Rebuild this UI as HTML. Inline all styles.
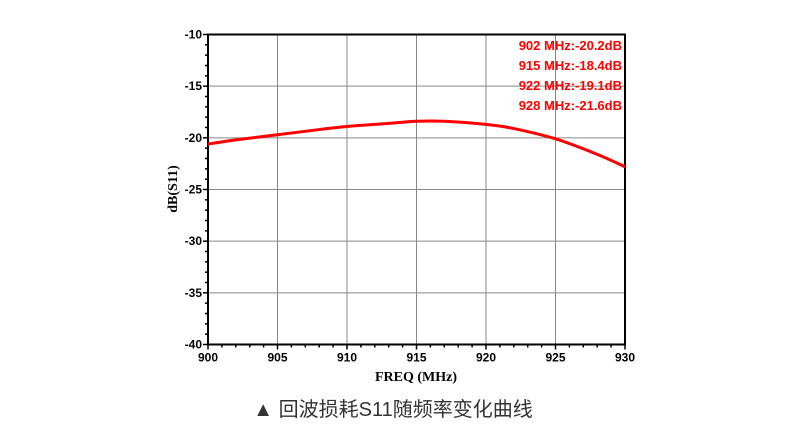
<!DOCTYPE html>
<html><head><meta charset="utf-8"><style>
body{margin:0;background:#fff;width:790px;height:439px;overflow:hidden}
svg{display:block}
</style></head><body>
<svg id="chart" width="790" height="439" xmlns="http://www.w3.org/2000/svg">
<g id="grid"></g>
<g id="axes"></g>
<path id="curve" fill="none" stroke="#ff0000" stroke-width="3"/>
<g id="ann" font-family="Liberation Sans, sans-serif" font-weight="bold" font-size="13" fill="#ff0000"></g>
<text transform="translate(177,189) rotate(-90)" text-anchor="middle" font-family="Liberation Serif, serif" font-weight="bold" font-size="14">dB(S11)</text>
<text x="416" y="381" text-anchor="middle" font-family="Liberation Serif, serif" font-weight="bold" font-size="14">FREQ (MHz)</text>
<text x="393" y="416" text-anchor="middle" font-family="Liberation Sans, Noto Sans CJK SC, sans-serif" font-size="20" fill="#333">▲ 回波损耗S11随频率变化曲线</text>
</svg>
<script>
const freqs=[900,902,905,908,910,913,915,917,920,922,925,928,930];
const s11=[-20.6,-20.2,-19.7,-19.2,-18.9,-18.6,-18.4,-18.4,-18.7,-19.1,-20.1,-21.6,-22.8];
const xTicks=[900,905,910,915,920,925,930];
const yTicks=[-10,-15,-20,-25,-30,-35,-40];
const markers=["902 MHz:-20.2dB","915 MHz:-18.4dB","922 MHz:-19.1dB","928 MHz:-21.6dB"];
const L=208,R=625,T=34.5,B=344.5;
const X=v=>L+(v-900)/30*(R-L), Y=v=>T+(-10-v)/30*(B-T);
const NS="http://www.w3.org/2000/svg";
function mk(t,a,p){const e=document.createElementNS(NS,t);for(const k in a)e.setAttribute(k,a[k]);p.appendChild(e);return e;}
const g=document.getElementById('grid'),ax=document.getElementById('axes');
xTicks.forEach(v=>{const l=mk('line',{x1:X(v),x2:X(v),y1:T,y2:B,stroke:'#888','stroke-width':1},g);

const t=mk('text',{x:X(v),y:B+17,'text-anchor':'middle','font-family':'Liberation Sans, sans-serif','font-weight':'bold','font-size':12},ax);t.textContent=v;
});
yTicks.forEach(v=>{const l=mk('line',{x1:L,x2:R,y1:Y(v),y2:Y(v),stroke:'#888','stroke-width':1},g);

const t=mk('text',{x:L-6,y:Y(v)+4,'text-anchor':'end','font-family':'Liberation Sans, sans-serif','font-weight':'bold','font-size':12},ax);t.textContent=v;
});
for(let v=900;v<=930;v++){const l=mk('line',{x1:X(v),x2:X(v),y1:B,y2:B+(v%5?3:5),stroke:'#000','stroke-width':1.5},ax);
}
for(let v=-40;v<=-10;v++){const l=mk('line',{x1:L-(v%5?3:5),x2:L,y1:Y(v),y2:Y(v),stroke:'#000','stroke-width':1.5},ax);
}
const fr=mk('rect',{x:L,y:T,width:R-L,height:B-T,fill:'none',stroke:'#000','stroke-width':2},ax);

const pts=freqs.map((f,i)=>[X(f),Y(s11[i])]);let d='M'+pts[0];
for(let i=0;i<pts.length-1;i++){const p0=pts[i-1]||pts[i],p1=pts[i],p2=pts[i+1],p3=pts[i+2]||p2;
d+=' C'+(p1[0]+(p2[0]-p0[0])/6)+','+(p1[1]+(p2[1]-p0[1])/6)+' '+(p2[0]-(p3[0]-p1[0])/6)+','+(p2[1]-(p3[1]-p1[1])/6)+' '+p2;}
document.getElementById('curve').setAttribute('d',d);
const an=document.getElementById('ann');
markers.forEach((m,i)=>{const t=mk('text',{x:622,y:50+i*20,'text-anchor':'end'},an);t.textContent=m;
});
</script>
</body></html>
